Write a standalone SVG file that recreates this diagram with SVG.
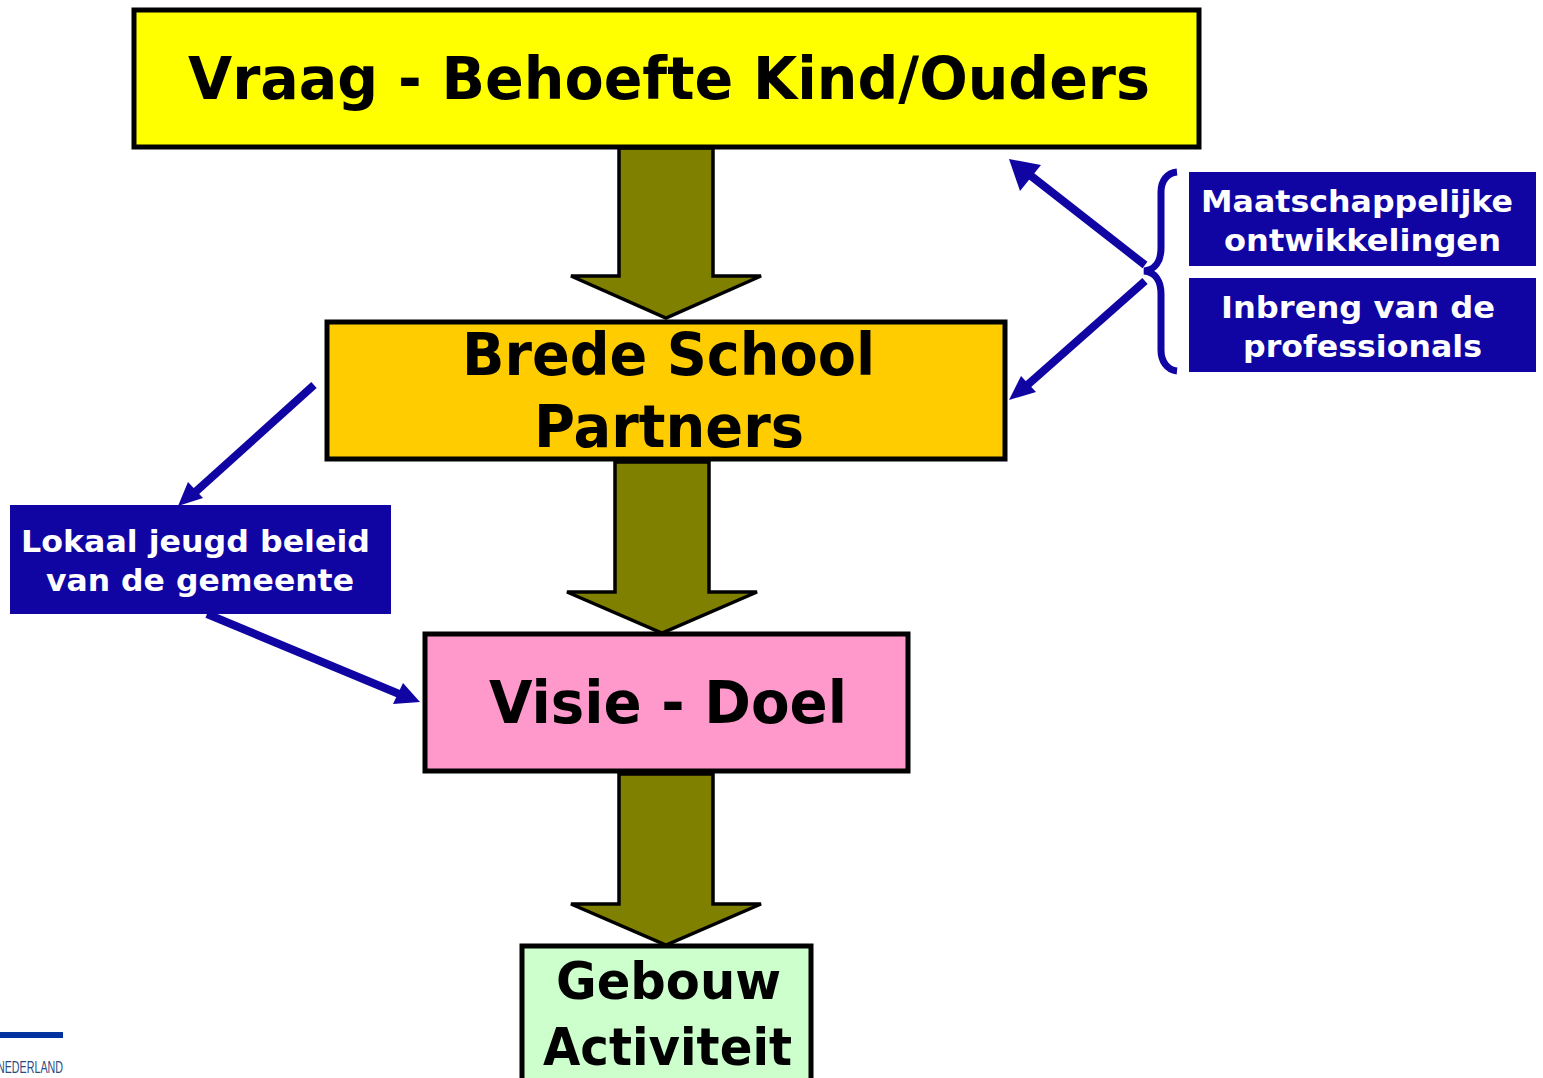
<svg xmlns="http://www.w3.org/2000/svg" width="1543" height="1078" viewBox="0 0 1543 1078">
<style>
.box{stroke:#000;stroke-width:5}
.big{font-family:"DejaVu Sans",Verdana,sans-serif;font-weight:bold;font-size:58px;fill:#000}
.mid{font-size:51px}
.small{font-family:"DejaVu Sans",Verdana,sans-serif;font-weight:bold;font-size:31px;fill:#fff}
.blue{fill:#1005a3}
.arrow{fill:#808000;stroke:#000;stroke-width:3.5;stroke-linejoin:miter}
.link{stroke:#1005a3;stroke-width:8;fill:none}
</style>
<rect width="1543" height="1078" fill="#fff"/>
<g id="connectors">
<path class="arrow" d="M619 148V276H571L666 318L761 276H713V148Z"/>
<path class="arrow" d="M615 462V592H567L662 633L757 592H709V462Z"/>
<path class="arrow" d="M619 774V904H571L666 945L761 904H713V774Z"/>
<path class="link" d="M1145 265L1026 172"/><path class="blue" d="M1009 159L1041 165L1020 191Z"/>
<path class="link" d="M1145 281L1024 388"/><path class="blue" d="M1009 400L1021 376L1036 392Z"/>
<path class="link" d="M314 385L192 495"/><path class="blue" d="M178 506L188 482L203 498Z"/>
<path class="link" d="M207 614L404 696"/><path class="blue" d="M420 702L393 704L403 683Z"/>
<path d="M1177 172C1167 173 1161 181 1161 192V248C1161 261 1155 270 1144 271C1155 272 1161 281 1161 294V350C1161 361 1167 370 1177 371" fill="none" stroke="#1005a3" stroke-width="7"/>
</g>
<g id="node-vraag"><rect class="box" x="134" y="10" width="1065" height="137" fill="#ff0"/><text class="big" x="188" y="99" textLength="962" lengthAdjust="spacingAndGlyphs">Vraag - Behoefte Kind/Ouders</text></g>
<g id="node-brede"><rect class="box" x="327" y="322" width="678" height="137" fill="#fc0"/><text class="big" x="462" y="375" textLength="413" lengthAdjust="spacingAndGlyphs">Brede School</text><text class="big" x="534" y="447" textLength="270" lengthAdjust="spacingAndGlyphs">Partners</text></g>
<g id="node-visie"><rect class="box" x="425" y="634" width="483" height="137" fill="#f9c"/><text class="big" x="489" y="723" textLength="358" lengthAdjust="spacingAndGlyphs">Visie - Doel</text></g>
<g id="node-gebouw"><rect class="box" x="522" y="946" width="289" height="137" fill="#cfc"/><text class="big mid" x="556" y="999" textLength="225" lengthAdjust="spacingAndGlyphs">Gebouw</text><text class="big mid" x="543" y="1065" textLength="249" lengthAdjust="spacingAndGlyphs">Activiteit</text></g>
<g id="node-maatschappelijk"><rect class="blue" x="1189" y="172" width="347" height="94"/><text class="small" x="1201" y="212" textLength="312" lengthAdjust="spacingAndGlyphs">Maatschappelijke</text><text class="small" x="1224" y="251" textLength="277" lengthAdjust="spacingAndGlyphs">ontwikkelingen</text></g>
<g id="node-inbreng"><rect class="blue" x="1189" y="278" width="347" height="94"/><text class="small" x="1221" y="318" textLength="274" lengthAdjust="spacingAndGlyphs">Inbreng van de</text><text class="small" x="1243" y="357" textLength="239" lengthAdjust="spacingAndGlyphs">professionals</text></g>
<g id="node-lokaal"><rect class="blue" x="10" y="505" width="381" height="109"/><text class="small" x="21" y="552" textLength="349" lengthAdjust="spacingAndGlyphs">Lokaal jeugd beleid</text><text class="small" x="46" y="591" textLength="308" lengthAdjust="spacingAndGlyphs">van de gemeente</text></g>
<g id="logo"><rect x="0" y="1032" width="63" height="6" fill="#0033a0"/><text x="63" y="1073" text-anchor="end" font-family="Liberation Sans,sans-serif" font-size="17" fill="#2c4a80" textLength="66" lengthAdjust="spacingAndGlyphs">NEDERLAND</text></g>
</svg>
